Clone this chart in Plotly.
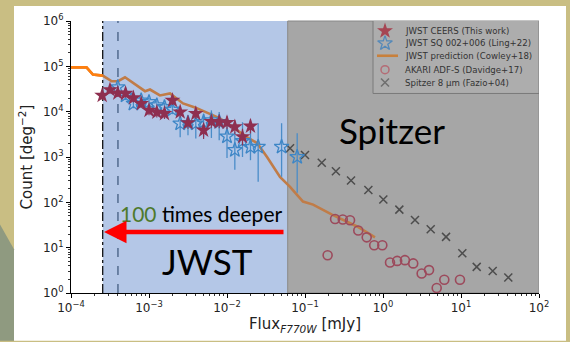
import plotly.graph_objects as go

# ---------------- data ----------------
ceers_flux = [2.51e-4, 3.16e-4, 3.98e-4, 5.01e-4, 6.31e-4, 7.94e-4, 1.0e-3, 1.26e-3, 1.58e-3, 2.0e-3,
              2.51e-3, 3.16e-3, 3.98e-3, 5.01e-3, 6.31e-3, 7.94e-3, 1.0e-2, 1.26e-2, 1.58e-2, 2.0e-2]
ceers_count = [22800, 30400, 25600, 25200, 20100, 15000, 10700, 9680, 9060, 17700,
               9820, 5700, 9060, 3900, 6050, 5930, 5750, 4610, 2790, 4780]
ceers_lo = [18000, 25000, 21000, 20500, 16000, 12000, 8300, 7400, 6900, 14000,
            7400, 4200, 6900, 2500, 4400, 4300, 4100, 3200, 1800, 3300]
ceers_hi = [28000, 37000, 31000, 30500, 25000, 18500, 13500, 12300, 11600, 22000,
            12600, 7600, 11600, 5600, 8200, 8000, 7900, 6500, 4200, 6800]

ling_flux = [3.98e-4, 5.01e-4, 6.31e-4, 7.94e-4, 1.0e-3, 1.26e-3, 1.58e-3, 2.0e-3, 2.51e-3, 3.16e-3,
             3.98e-3, 5.01e-3, 6.31e-3, 7.94e-3, 1.0e-2, 1.26e-2, 1.58e-2, 2.0e-2, 2.51e-2, 5.01e-2, 7.94e-2]
ling_count = [34700, 22800, 15000, 17700, 16300, 13800, 12600, 11100, 5470, 5640,
              5470, 5930, 6460, 5930, 2840, 1420, 2240, 1660, 1680, 1680, 1000]
ling_lo = [27500, 18000, 11900, 14000, 12900, 10900, 10000, 8800, 2740, 3030,
           2570, 2790, 2630, 2340, 950, 520, 1000, 850, 284, 365, 163]
ling_hi = [43700, 28700, 18900, 22300, 20500, 17400, 15900, 14000, 7150, 7640,
           8300, 9100, 10700, 9800, 6460, 3580, 5850, 5560, 5560, 5560, 3360]

pred_flux = [1.0e-4, 1.58e-4, 1.91e-4, 2.55e-4, 3.33e-4, 4.01e-4, 4.92e-4, 6.62e-4, 8.89e-4, 1.03e-3,
             1.38e-3, 1.86e-3, 2.73e-3, 3.89e-3, 5.55e-3, 8.13e-3, 1.19e-2, 1.80e-2, 2.43e-2, 3.26e-2,
             4.78e-2, 6.43e-2, 9.42e-2, 0.127, 0.222, 0.345, 0.465, 0.624, 0.789]
pred_count = [94800, 94800, 65800, 62500, 46900, 46900, 57300, 41100, 28300, 30800,
              22800, 25200, 15200, 12400, 9680, 7140, 4540, 2740, 2030, 1000,
              365, 220, 104, 89, 53.7, 37.8, 29.3, 21.7, 16.8]

akari_flux = [0.195, 0.243, 0.305, 0.378, 0.482, 0.618, 0.771, 0.98, 1.23, 1.52,
              1.91, 2.44, 3.13, 3.89, 4.88, 6.11, 9.7]
akari_count = [6.8, 42.8, 41.8, 40.3, 24.0, 16.9, 11.3, 11.3, 4.7, 5.1,
               5.3, 4.5, 2.7, 3.2, 1.29, 1.96, 1.96]

spitzer_flux = [0.0643, 0.1, 0.164, 0.249, 0.389, 0.649, 1.01, 1.62, 2.57, 4.09,
                6.43, 10.4, 15.9, 25.5, 40.4]
spitzer_count = [1553, 1107, 750, 486, 303, 187, 115, 69, 40.7, 25.6,
                 17.3, 7.5, 3.77, 3.07, 2.2]

limit_jwst = 2.55e-4      # dash-dot line / start of JWST region
limit_ceers = 4.0e-4      # dashed line
limit_spitzer = 0.06      # JWST / Spitzer boundary

legend_labels = ["JWST CEERS (This work)", "JWST SQ 002+006 (Ling+22)", "JWST prediction (Cowley+18)",
                 "AKARI ADF-S (Davidge+17)", "Spitzer 8 \u03bcm (Fazio+04)"]

x_tickvals = [1e-4, 1e-3, 1e-2, 1e-1, 1, 10, 100]
x_ticktext = ["10<sup>\u22124</sup>", "10<sup>\u22123</sup>", "10<sup>\u22122</sup>", "10<sup>\u22121</sup>",
              "10<sup>0</sup>", "10<sup>1</sup>", "10<sup>2</sup>"]
y_tickvals = [1, 10, 100, 1e3, 1e4, 1e5, 1e6]
y_ticktext = ["10<sup>0</sup>", "10<sup>1</sup>", "10<sup>2</sup>", "10<sup>3</sup>",
              "10<sup>4</sup>", "10<sup>5</sup>", "10<sup>6</sup>"]

# ---------------- layout geometry helpers ----------------
W, H = 570, 342
L, R, T, B = 71, 31, 20, 48
PW, PH = W - L - R, H - T - B


def px(x):
    return (x - L) / PW


def py(y):
    return (H - B - y) / PH


fig = go.Figure()

# prediction line: bright in the white part, muted under the coloured regions
n_white = sum(1 for f in pred_flux if f <= limit_jwst)
fig.add_trace(go.Scatter(x=pred_flux, y=pred_count, mode="lines",
                         line=dict(color="#c07c48", width=2.6), hoverinfo="skip"))
fig.add_trace(go.Scatter(x=pred_flux[:n_white], y=pred_count[:n_white], mode="lines",
                         line=dict(color="#ff7f0e", width=2.6), hoverinfo="skip"))

fig.add_trace(go.Scatter(
    x=spitzer_flux, y=spitzer_count, mode="markers",
    marker=dict(symbol="x-thin", size=8, line=dict(color="#4d4d4d", width=1.5))))

fig.add_trace(go.Scatter(
    x=akari_flux, y=akari_count, mode="markers",
    marker=dict(symbol="circle-open", size=9, color="#9c4a5c", line=dict(width=1.6))))

fig.add_trace(go.Scatter(
    x=ling_flux, y=ling_count, mode="markers",
    error_y=dict(type="data", symmetric=False,
                 array=[h - c for h, c in zip(ling_hi, ling_count)],
                 arrayminus=[c - l for l, c in zip(ling_lo, ling_count)],
                 color="#4a8cc8", thickness=1.3, width=0),
    marker=dict(symbol="star-open", size=11, color="#3d86c6", line=dict(width=1.3))))

fig.add_trace(go.Scatter(
    x=ceers_flux, y=ceers_count, mode="markers",
    error_y=dict(type="data", symmetric=False,
                 array=[h - c for h, c in zip(ceers_hi, ceers_count)],
                 arrayminus=[c - l for l, c in zip(ceers_lo, ceers_count)],
                 color="#8e3452", thickness=1.2, width=0),
    marker=dict(symbol="star", size=12, color="#8e2f50", line=dict(width=0))))

# ---------------- custom legend (on an overlay axis in 0..1 units) ----------------
leg_y = [py(30), py(42.5), py(55), py(69), py(82)]
leg_x = px(385)
fig.add_trace(go.Scatter(
    x=[leg_x, leg_x, leg_x, leg_x], y=[leg_y[0], leg_y[1], leg_y[3], leg_y[4]],
    xaxis="x2", yaxis="y2", mode="markers", hoverinfo="skip",
    marker=dict(symbol=["star", "star-open", "circle-open", "x-thin"],
                size=[12, 11, 8, 8],
                color=["#a3182c", "#2f79bd", "#b8505c", "#555555"],
                line=dict(color=["#a3182c", "#2f79bd", "#b8505c", "#555555"], width=[0, 1.3, 1.5, 1.5]))))
fig.add_trace(go.Scatter(x=[px(377), px(398)], y=[leg_y[2], leg_y[2]], xaxis="x2", yaxis="y2",
                         mode="lines", line=dict(color="#c8803c", width=2.6), hoverinfo="skip"))

shapes = [
    # white slide panel
    dict(type="rect", xref="paper", yref="paper", x0=px(14), x1=px(566), y0=py(342), y1=py(5),
         fillcolor="white", line=dict(width=0), layer="below"),
    # left decoration band
    dict(type="path", xref="paper", yref="paper",
         path=f"M {px(0)},{py(225)} L {px(14)},{py(250)} L {px(14)},{py(342)} L {px(0)},{py(342)} Z",
         fillcolor="#8f9a80", line=dict(width=0), layer="below"),
    # JWST region
    dict(type="rect", xref="x", yref="paper", x0=limit_jwst, x1=limit_spitzer, y0=0, y1=1.0,
         fillcolor="#b4c7e7", line=dict(width=0), layer="below"),
    # Spitzer region
    dict(type="rect", xref="x", yref="paper", x0=limit_spitzer, x1=100, y0=0, y1=1.0,
         fillcolor="#a6a6a6", line=dict(color="#888888", width=1), layer="below"),
    # limit lines
    dict(type="line", xref="x", yref="paper", x0=limit_jwst, x1=limit_jwst, y0=0, y1=1,
         line=dict(color="black", width=1.2, dash="dashdot"), layer="below"),
    dict(type="line", xref="x", yref="paper", x0=limit_ceers, x1=limit_ceers, y0=0, y1=1,
         line=dict(color="#3a5478", width=1.2, dash="dash"), layer="below"),
    # legend box
    dict(type="rect", xref="x2", yref="y2", x0=px(373), x1=px(539), y0=py(93), y1=py(19),
         fillcolor="#adadad", line=dict(color="#7a7a7a", width=1), layer="below"),
]

annotations = [
    dict(text="Spitzer", xref="paper", yref="paper", x=px(392), y=py(130), showarrow=False,
         xanchor="center", yanchor="middle",
         font=dict(family="Lato", size=35, color="black")),
    dict(text="JWST", xref="paper", yref="paper", x=px(207), y=py(262), showarrow=False,
         xanchor="center", yanchor="middle",
         font=dict(family="Lato", size=35, color="black")),
    dict(text="<span style='color:#4e7a2c'>100</span> times deeper", xref="paper", yref="paper",
         x=px(201), y=py(214), showarrow=False, xanchor="center", yanchor="middle",
         font=dict(family="Lato", size=21, color="black")),
    dict(text="", xref="paper", yref="paper", x=px(104), y=py(232.5), ax=181, ay=0,
         showarrow=True, arrowhead=2, arrowsize=1, arrowwidth=4.5, arrowcolor="#ff0000"),
]
for i, lab in enumerate(legend_labels):
    annotations.append(dict(text=lab, xref="paper", yref="paper", x=px(403), y=leg_y[i],
                            xanchor="left", yanchor="middle", showarrow=False,
                            font=dict(family="DejaVu Sans", size=8.6, color="#333333")))

fig.update_layout(
    width=W, height=H, margin=dict(l=L, r=R, t=T, b=B),
    paper_bgcolor="#c9be83", plot_bgcolor="rgba(0,0,0,0)",
    showlegend=False, shapes=shapes, annotations=annotations,
    font=dict(family="DejaVu Sans", color="#222222"),
    xaxis=dict(type="log", range=[-4, 2], showgrid=False, zeroline=False,
               showline=True, linecolor="black", linewidth=1,
               ticks="outside", ticklen=4, tickcolor="black",
               tickvals=x_tickvals, ticktext=x_ticktext, tickfont=dict(size=12),
               minor=dict(ticks="outside", ticklen=2, tickcolor="#333333", dtick="D1", showgrid=False),
               title=dict(text="Flux<sub><i>F770W</i></sub> [mJy]", font=dict(size=15), standoff=4)),
    yaxis=dict(type="log", range=[0, 6], showgrid=False, zeroline=False,
               showline=True, linecolor="black", linewidth=1,
               ticks="outside", ticklen=4, tickcolor="black",
               tickvals=y_tickvals, ticktext=y_ticktext, tickfont=dict(size=12),
               minor=dict(ticks="outside", ticklen=2, tickcolor="#333333", dtick="D1", showgrid=False),
               title=dict(text="Count [deg<sup>\u22122</sup>]", font=dict(size=15), standoff=6)),
    xaxis2=dict(overlaying="x", range=[0, 1], visible=False, anchor="y2"),
    yaxis2=dict(overlaying="y", range=[0, 1], visible=False, anchor="x2"),
)

fig.write_html("out.html", config={"displayModeBar": False},
               post_script="document.body.style.margin='0px';document.body.style.overflow='hidden';")
